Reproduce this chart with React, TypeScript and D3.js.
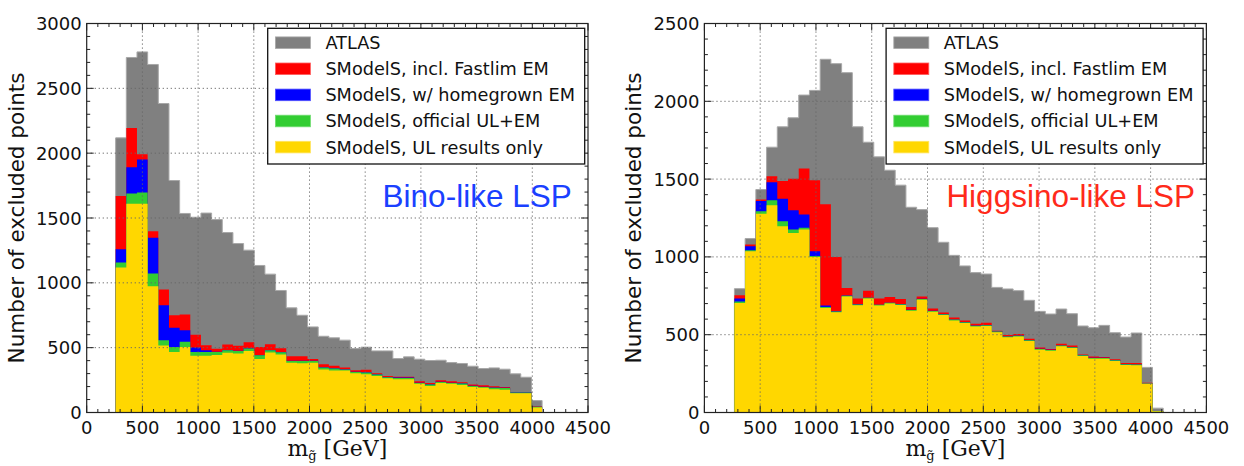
import React, { useEffect } from 'react';
import * as d3 from 'd3';

const N_BINS = 40;
const binStartBino = 260;
const binWidthBino = 95.7;
const binStartHiggsino = 269;
const binWidthHiggsino = 96.1;

// Bino-like LSP (cumulative, each histogram drawn from 0)
const atlasBino = [2118, 2738, 2781, 2684, 2383, 1789, 1535, 1506, 1538, 1488, 1388, 1303, 1252, 1134, 1067, 941, 807, 750, 660, 588, 576, 558, 493, 504, 475, 475, 416, 429, 411, 401, 403, 385, 378, 357, 339, 344, 334, 298, 272, 92];
const fastlimBino = [1670, 2195, 1992, 1398, 948, 750, 756, 599, 519, 491, 524, 514, 542, 506, 527, 496, 434, 434, 413, 372, 360, 347, 326, 329, 303, 282, 275, 275, 241, 228, 249, 241, 234, 216, 211, 203, 197, 159, 159, 49];
const homegrownBino = [1259, 1892, 1951, 1347, 827, 653, 635, 501, 480, 469, 482, 477, 495, 444, 482, 467, 400, 400, 400, 349, 341, 334, 315, 310, 295, 274, 269, 269, 230, 218, 238, 230, 226, 207, 199, 192, 190, 156, 156, 45];
const officialBino = [1157, 1689, 1697, 1072, 558, 506, 545, 467, 467, 467, 480, 475, 493, 442, 480, 465, 398, 398, 398, 347, 339, 332, 313, 308, 293, 272, 267, 267, 228, 216, 236, 228, 224, 205, 197, 190, 188, 154, 154, 44];
const ulBino = [1118, 1609, 1609, 974, 517, 467, 506, 437, 437, 444, 460, 455, 475, 413, 463, 447, 383, 380, 383, 332, 324, 324, 303, 295, 282, 265, 257, 257, 221, 205, 228, 221, 213, 197, 190, 180, 175, 149, 149, 39];

// Higgsino-like LSP
const atlasHiggsino = [796, 1118, 1433, 1705, 1836, 1894, 2040, 2070, 2270, 2242, 2184, 1836, 1737, 1643, 1557, 1461, 1319, 1304, 1188, 1094, 1010, 942, 899, 890, 804, 794, 783, 721, 650, 633, 665, 635, 556, 545, 560, 513, 485, 511, 290, 28];
const fastlimHiggsino = [753, 1079, 1369, 1519, 1487, 1502, 1568, 1493, 1339, 1000, 800, 732, 783, 732, 743, 730, 678, 746, 669, 642, 611, 592, 571, 577, 526, 498, 504, 474, 418, 408, 442, 431, 373, 360, 356, 343, 318, 318, 191, 10];
const homegrownHiggsino = [732, 1068, 1360, 1480, 1373, 1300, 1272, 1036, 687, 650, 752, 695, 738, 693, 706, 697, 660, 731, 654, 633, 598, 581, 559, 562, 521, 489, 495, 465, 409, 403, 431, 420, 369, 352, 352, 337, 311, 309, 187, 10];
const officialHiggsino = [714, 1043, 1293, 1364, 1229, 1176, 1187, 1005, 678, 649, 751, 694, 737, 692, 705, 696, 659, 730, 653, 632, 597, 580, 558, 561, 520, 488, 494, 464, 408, 402, 430, 419, 368, 351, 351, 336, 310, 308, 186, 9];
const ulHiggsino = [704, 1036, 1277, 1332, 1197, 1154, 1176, 1000, 672, 644, 746, 689, 732, 687, 700, 691, 654, 725, 648, 627, 592, 575, 553, 556, 515, 483, 489, 459, 403, 397, 425, 414, 363, 346, 346, 331, 305, 303, 185, 8];

const seriesNames = ['ATLAS', 'SModelS, incl. Fastlim EM', 'SModelS, w/ homegrown EM', 'SModelS, official UL+EM', 'SModelS, UL results only'];
const seriesColors = ['#808080', '#ff0000', '#0000ff', '#32cd32', '#ffd700'];
const seriesEdge = ['#a8a8a8', '#ff6060', '#5050ff', '#70dd70', '#ffe460'];

const xTicks = [0, 500, 1000, 1500, 2000, 2500, 3000, 3500, 4000, 4500];
const yTicksBino = [0, 500, 1000, 1500, 2000, 2500, 3000];
const yTicksHiggsino = [0, 500, 1000, 1500, 2000, 2500];

const PLOT_TOP = 23.5;
const PLOT_BOTTOM = 412.5;
const AX = '#222';

type PanelProps = {
  left: number; right: number; yMax: number; yTicks: number[];
  series: number[][]; binStart: number; binWidth: number;
  title: string; titleColor: string; titleRight: number;
};

function Panel({ left, right, yMax, yTicks, series, binStart, binWidth, title, titleColor, titleRight }: PanelProps) {
  const x = d3.scaleLinear().domain([0, 4500]).range([left, right]);
  const y = d3.scaleLinear().domain([0, yMax]).range([PLOT_BOTTOM, PLOT_TOP]);
  const edges = d3.range(N_BINS + 1).map(i => binStart + i * binWidth);
  const area = d3.area<[number, number]>()
    .x(d => x(d[0])).y0(y(0)).y1(d => y(d[1])).curve(d3.curveStepAfter);
  const line = d3.line<[number, number]>().x(d => x(d[0])).y(d => y(d[1])).curve(d3.curveStepAfter);
  const minorX = d3.range(0, 4501, 100);
  const minorY = d3.range(0, yMax + 1, 100);
  const legLeft = right - 3.3 - 317;
  const legTop = 28.3;
  return (
    <g>
      {series.map((vals, si) => {
        const pts: [number, number][] = edges.map((e, i) => [e, vals[Math.min(i, N_BINS - 1)]]);
        const outline: [number, number][] = [[edges[0], 0], ...pts, [edges[N_BINS], 0]];
        return (
          <g key={si}>
            <path d={area(pts) || ''} fill={seriesColors[si]} />
            {si === 0 && <path d={line(outline) || ''} fill="none" stroke={seriesEdge[0]} strokeWidth={1} />}
          </g>
        );
      })}
      {/* grid */}
      {xTicks.filter(t => t > 0 && t < 4500).map(t => (
        <line key={'gx' + t} x1={x(t)} x2={x(t)} y1={PLOT_TOP} y2={PLOT_BOTTOM} stroke="#666" strokeWidth={1} strokeDasharray="1.2,2.8" />
      ))}
      {yTicks.filter(t => t > 0 && t < yMax).map(t => (
        <line key={'gy' + t} x1={left} x2={right} y1={y(t)} y2={y(t)} stroke="#666" strokeWidth={1} strokeDasharray="1.2,2.8" />
      ))}
      {/* ticks */}
      {minorX.map(t => {
        const len = t % 500 === 0 ? 7 : 3.5;
        return (
          <g key={'tx' + t}>
            <line x1={x(t)} x2={x(t)} y1={PLOT_BOTTOM} y2={PLOT_BOTTOM - len} stroke={AX} strokeWidth={1} />
            <line x1={x(t)} x2={x(t)} y1={PLOT_TOP} y2={PLOT_TOP + len} stroke={AX} strokeWidth={1} />
          </g>
        );
      })}
      {minorY.map(t => {
        const len = t % 500 === 0 ? 7 : 3.5;
        return (
          <g key={'ty' + t}>
            <line x1={left} x2={left + len} y1={y(t)} y2={y(t)} stroke={AX} strokeWidth={1} />
            <line x1={right} x2={right - len} y1={y(t)} y2={y(t)} stroke={AX} strokeWidth={1} />
          </g>
        );
      })}
      <rect x={left} y={PLOT_TOP} width={right - left} height={PLOT_BOTTOM - PLOT_TOP} fill="none" stroke={AX} strokeWidth={1.2} />
      {/* tick labels */}
      {xTicks.map(t => (
        <text key={'lx' + t} x={x(t)} y={PLOT_BOTTOM + 21} textAnchor="middle" fontFamily="DejaVu Sans" fontSize={18} fill="#111">{t}</text>
      ))}
      {yTicks.map(t => (
        <text key={'ly' + t} x={left - 5} y={y(t) + 6.5} textAnchor="end" fontFamily="DejaVu Sans" fontSize={18} fill="#111">{t}</text>
      ))}
      {/* axis labels */}
      <text transform={`translate(${left - 63.2},${(PLOT_TOP + PLOT_BOTTOM) / 2}) rotate(-90)`} textAnchor="middle" fontFamily="DejaVu Sans" fontSize={21.5} fill="#111">Number of excluded points</text>
      <text x={(left + right) / 2} y={456} textAnchor="middle" fontFamily="DejaVu Serif" fontSize={22} fill="#111">
        m<tspan fontSize={13} dy={4}>{'g\u0303'}</tspan><tspan dy={-4}> [GeV]</tspan>
      </text>
      {/* legend */}
      <rect x={legLeft} y={legTop} width={317} height={135.7} fill="#fff" stroke="#111" strokeWidth={1.3} />
      {seriesNames.map((name, i) => {
        const cy = legTop + 14.4 + 26.1 * i;
        return (
          <g key={'leg' + i}>
            <rect x={legLeft + 7.7} y={cy - 5.8} width={35} height={11.6} fill={seriesColors[i]} stroke={seriesEdge[i]} strokeWidth={0.8} />
            <text x={legLeft + 57.7} y={cy + 6.4} fontFamily="DejaVu Sans" fontSize={17.7} fill="#111">{name}</text>
          </g>
        );
      })}
      <text x={titleRight} y={207} textAnchor="end" fontFamily="Liberation Sans" fontSize={31.5} fill={titleColor}>{title}</text>
    </g>
  );
}

export default function App() {
  useEffect(() => {
    document.body.style.margin = '0';
  }, []);
  return (
    <svg width={1244} height={466} style={{ position: 'absolute', left: 0, top: 0, background: '#fff' }}>
      <rect width={1244} height={466} fill="#fff" />
      <Panel left={86.7} right={588} yMax={3000} yTicks={yTicksBino}
        series={[atlasBino, fastlimBino, homegrownBino, officialBino, ulBino]}
        binStart={binStartBino} binWidth={binWidthBino}
        title="Bino-like LSP" titleColor="#1a40ff" titleRight={571.7} />
      <Panel left={704.4} right={1206.4} yMax={2500} yTicks={yTicksHiggsino}
        series={[atlasHiggsino, fastlimHiggsino, homegrownHiggsino, officialHiggsino, ulHiggsino]}
        binStart={binStartHiggsino} binWidth={binWidthHiggsino}
        title="Higgsino-like LSP" titleColor="#ff2a1a" titleRight={1195} />
    </svg>
  );
}
